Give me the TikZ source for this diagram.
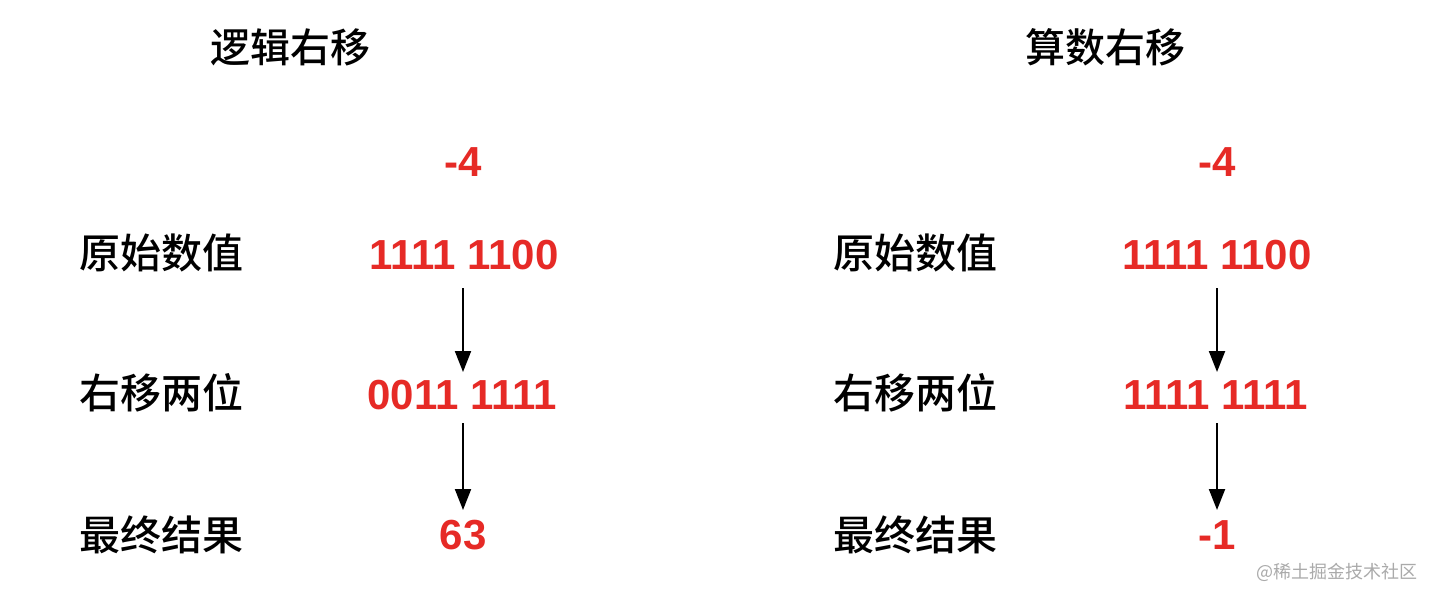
\documentclass[tikz,border=0pt]{standalone}
\usepackage{fontspec}
\setmainfont{Liberation Sans}
\newfontfamily\cjk{Noto Sans CJK SC}
\newfontfamily\cjkb{Noto Sans CJK SC Medium}
\usetikzlibrary{arrows.meta}
\definecolor{numred}{RGB}{230,42,38}
\definecolor{wmgrey}{RGB}{170,170,170}
\begin{document}
\begin{tikzpicture}[x=1pt,y=-1pt,
  title/.style={font=\cjkb\fontsize{40}{42}\selectfont, inner sep=0pt},
  label/.style={font=\cjkb\fontsize{41}{43}\selectfont, inner sep=0pt},
  num/.style={font=\bfseries\fontsize{42}{44}\selectfont, text=numred, inner sep=0pt},
  arr/.style={-{Triangle[length=21pt,width=16pt]}, line width=2pt, black},
  wm/.style={font=\cjk\fontsize{18}{20}\selectfont, text=wmgrey, inner sep=0pt}]
\useasboundingbox (0,0) rectangle (1434,600);
\fill[white] (0,0) rectangle (1434,600);
% left
\node[title] (t1) at (290,47) {逻辑右移};
\node[num] (l0) at (463,162) {-4};
\node[label] (la) at (161,253) {原始数值};
\node[label] (lb) at (161,393) {右移两位};
\node[label] (lc) at (161,535) {最终结果};
\node[num] (l1) at (464,255) {1111 1100};
\node[num] (l2) at (462,395) {0011 1111};
\node[num] (l3) at (463,535) {63};
\coordinate (l1s) at (463,288);
\coordinate (l1e) at (463,372);
\coordinate (l2s) at (463,423);
\coordinate (l2e) at (463,510);
\draw[arr] (l1s) -- (l1e);
\draw[arr] (l2s) -- (l2e);
% right
\node[title] (t2) at (1105,47) {算数右移};
\node[num] (r0) at (1217,162) {-4};
\node[label] (ra) at (915,253) {原始数值};
\node[label] (rb) at (915,393) {右移两位};
\node[label] (rc) at (915,535) {最终结果};
\node[num] (r1) at (1217,255) {1111 1100};
\node[num] (r2) at (1216,395) {1111 1111};
\node[num] (r3) at (1217,535) {-1};
\coordinate (r1s) at (1217,288);
\coordinate (r1e) at (1217,372);
\coordinate (r2s) at (1217,423);
\coordinate (r2e) at (1217,510);
\draw[arr] (r1s) -- (r1e);
\draw[arr] (r2s) -- (r2e);
% watermark
\node[wm] (w) at (1337,572) {@稀土掘金技术社区};
\end{tikzpicture}
\end{document}
